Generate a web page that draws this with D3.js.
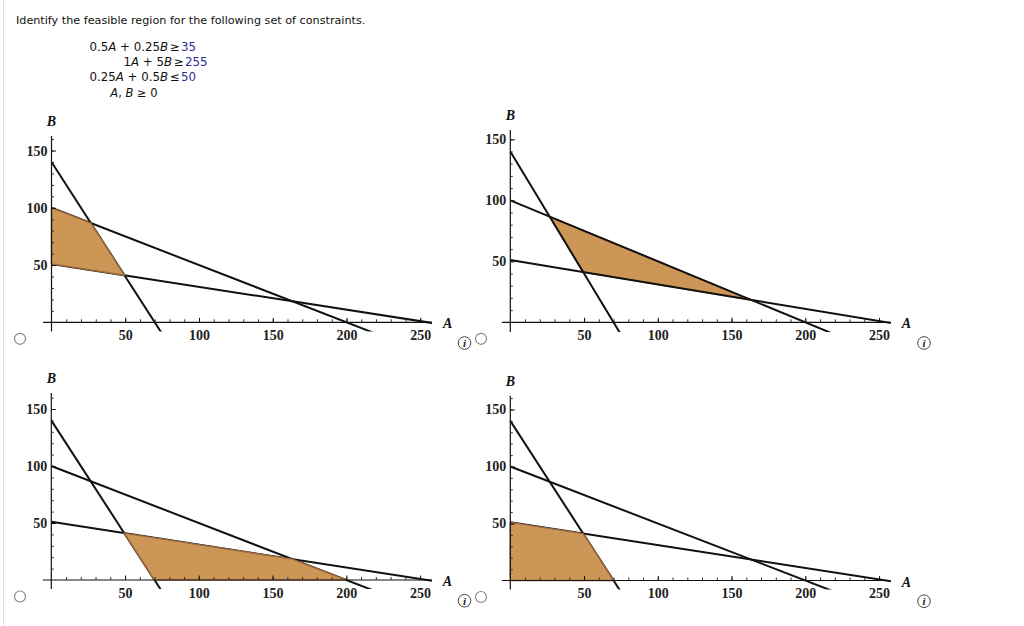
<!DOCTYPE html>
<html>
<head>
<meta charset="utf-8">
<script src="https://cdn.jsdelivr.net/npm/d3@7"></script>
<style>
    body { margin: 0; background: #fff; }
    svg { display: block; }
    .tick text { font-family: "Liberation Serif", serif; font-weight: bold; font-size: 14px; fill: #222; }
</style>
</head>
<body>
<svg id="chart" width="1024" height="626"></svg>
<script>
// question text
var titleText = "Identify the feasible region for the following set of constraints.";
var constraintLhs = ["0.5A + 0.25B", "1A + 5B", "0.25A + 0.5B"];
var constraintOps = ["\u2265", "\u2265", "\u2264"];
var constraintRhs = ["35", "255", "50"];

// constraint lines a*A + b*B = c
var lineCoefs = [[0.5, 0.25, 35], [1, 5, 255], [0.25, 0.5, 50]];

// axis ticks
var xTicks = [50, 100, 150, 200, 250];
var yTicks = [50, 100, 150];
var minorTicks = d3.range(10, 260, 10);

// shaded region of each answer option (A, B vertices)
var regionOption1 = [[0, 100], [26.67, 86.67], [49.44, 41.11], [0, 51]];
var regionOption2 = [[26.67, 86.67], [163.33, 18.33], [49.44, 41.11]];
var regionOption3 = [[49.44, 41.11], [163.33, 18.33], [200, 0], [70, 0]];
var regionOption4 = [[0, 51], [49.44, 41.11], [70, 0], [0, 0]];
var regions = [regionOption1, regionOption2, regionOption3, regionOption4];

// layout of the four small plots
var originX = [51.5, 510.3, 51.3, 510.3];
var originY = [322.3, 322.3, 580, 580.5];
var unitY = [1.145, 1.22, 1.14, 1.14];
var unitX = 1.475;
var yTop = [162.7, 157.6, 164, 162];
var regionOnTop = [true, false, true, true];

var svg = d3.select('#chart');

svg.append('line')
    .attr('x1', 3.5).attr('x2', 3.5).attr('y1', 0).attr('y2', 626)
    .attr('stroke', '#e2e2e2');

svg.append('text')
    .attr('x', 16).attr('y', 24)
    .attr('font-family', 'DejaVu Sans').attr('font-size', 11.2)
    .attr('fill', '#111')
    .text(titleText);

var addMath = function(sel, str)
{
    str.split(/([AB])/).forEach(function(part)
    {
        if (!part) return;
        var t = sel.append('tspan').text(part);
        if (part === 'A' || part === 'B') {
            t.attr('font-style', 'italic');
        }
    });
};

var rowY = [51, 66, 81, 97];
var opX = [170, 174, 170];
constraintLhs.forEach(function(lhs, i)
{
    var t = svg.append('text')
        .attr('x', opX[i] - 2).attr('y', rowY[i])
        .attr('text-anchor', 'end')
        .attr('font-family', 'DejaVu Sans').attr('font-size', 11.8)
        .attr('fill', '#111');
    addMath(t, lhs);
    svg.append('text')
        .attr('x', opX[i]).attr('y', rowY[i])
        .attr('font-family', 'DejaVu Sans').attr('font-size', 11.8)
        .attr('fill', '#111')
        .text(constraintOps[i])
        .append('tspan').attr('dx', 1).attr('fill', '#2b2b96').text(constraintRhs[i]);
});
var lastRow = svg.append('text')
    .attr('x', 134).attr('y', rowY[3])
    .attr('text-anchor', 'middle')
    .attr('font-family', 'DejaVu Sans').attr('font-size', 11.5)
    .attr('fill', '#111');
addMath(lastRow, 'A, B \u2265 0');

var drawOption = function(i)
{
    var x = d3.scaleLinear().domain([0, 250]).range([originX[i], originX[i] + 250 * unitX]),
        y = d3.scaleLinear().domain([0, 150]).range([originY[i], originY[i] - 150 * unitY[i]]),
        g = svg.append('g');

    var clipId = 'clip' + i;
    svg.append('clipPath').attr('id', clipId)
        .append('rect')
        .attr('x', x(-5.7)).attr('y', y(yTop[i]))
        .attr('width', x(258) - x(-5.7)).attr('height', y(-8) - y(yTop[i]));

    var plot = g.append('g').attr('clip-path', 'url(#' + clipId + ')');

    var drawRegion = function()
    {
        plot.append('path')
            .datum(regions[i])
            .attr('d', d3.line().x(function(d) { return x(d[0]); }).y(function(d) { return y(d[1]); }).curve(d3.curveLinearClosed))
            .attr('fill', '#cb9656')
            .attr('stroke', '#9c6a3c')
            .attr('stroke-width', 1.4);
    };

    if (!regionOnTop[i]) drawRegion();

    lineCoefs.forEach(function(c)
    {
        var pts = [0, 262].map(function(a) { return [a, (c[2] - c[0] * a) / c[1]]; });
        plot.append('path')
            .datum(pts)
            .attr('d', d3.line().x(function(d) { return x(d[0]); }).y(function(d) { return y(d[1]); }))
            .attr('fill', 'none')
            .attr('stroke', '#111')
            .attr('stroke-width', 2);
    });

    if (regionOnTop[i]) drawRegion();

    // axis lines
    g.append('line')
        .attr('x1', x(-5.7)).attr('x2', x(258))
        .attr('y1', y(0)).attr('y2', y(0))
        .attr('stroke', '#111').attr('stroke-width', 1.2);
    g.append('line')
        .attr('x1', x(0)).attr('x2', x(0))
        .attr('y1', y(-8)).attr('y2', y(yTop[i]))
        .attr('stroke', '#111').attr('stroke-width', 1.2);

    // minor ticks
    g.append('g').attr('transform', 'translate(0,' + y(0) + ')')
        .call(d3.axisBottom(x).tickValues(minorTicks).tickSizeInner(-3).tickSizeOuter(0).tickFormat(''))
        .call(function(a) { a.select('.domain').remove(); a.selectAll('line').attr('stroke', '#333'); });
    g.append('g').attr('transform', 'translate(' + x(0) + ',0)')
        .call(d3.axisLeft(y).tickValues(d3.range(10, yTop[i], 10)).tickSizeInner(-2.5).tickSizeOuter(0).tickFormat(''))
        .call(function(a) { a.select('.domain').remove(); a.selectAll('line').attr('stroke', '#333'); });

    // major ticks with labels
    g.append('g').attr('transform', 'translate(0,' + y(0) + ')')
        .call(d3.axisBottom(x).tickValues(xTicks).tickSizeInner(-4.5).tickSizeOuter(0).tickPadding(8))
        .call(function(a) { a.select('.domain').remove(); a.selectAll('line').attr('stroke', '#111'); });
    g.append('g').attr('transform', 'translate(' + x(0) + ',0)')
        .call(d3.axisLeft(y).tickValues(yTicks).tickSizeInner(-4.5).tickSizeOuter(0).tickPadding(4))
        .call(function(a) { a.select('.domain').remove(); a.selectAll('line').attr('stroke', '#111'); });

    // axis names
    g.append('text')
        .attr('x', x(258) + 11).attr('y', y(0) + 6)
        .attr('font-family', 'Liberation Serif').attr('font-style', 'italic').attr('font-weight', 'bold')
        .attr('font-size', 14).attr('fill', '#111')
        .text('A');
    g.append('text')
        .attr('x', x(0)).attr('y', y(yTop[i]) - 10)
        .attr('text-anchor', 'middle')
        .attr('font-family', 'Liberation Serif').attr('font-style', 'italic').attr('font-weight', 'bold')
        .attr('font-size', 14).attr('fill', '#111')
        .text('B');

    // radio button and info icon
    var radioX = originX[i] < 300 ? 20 : 481;
    svg.append('circle')
        .attr('cx', radioX).attr('cy', y(0) + 16.5).attr('r', 5.5)
        .attr('fill', '#fff').attr('stroke', '#888').attr('stroke-width', 1.2);
    var infoX = originX[i] < 300 ? 464.5 : 924;
    svg.append('circle')
        .attr('cx', infoX).attr('cy', y(0) + 20.7).attr('r', 6.3)
        .attr('fill', '#fff').attr('stroke', '#444').attr('stroke-width', 1);
    svg.append('text')
        .attr('x', infoX).attr('y', y(0) + 24.5)
        .attr('text-anchor', 'middle')
        .attr('font-family', 'Liberation Serif').attr('font-style', 'italic').attr('font-weight', 'bold')
        .attr('font-size', 11).attr('fill', '#222')
        .text('i');
};

regions.forEach(function(r, i) { drawOption(i); });
</script>
</body>
</html>
